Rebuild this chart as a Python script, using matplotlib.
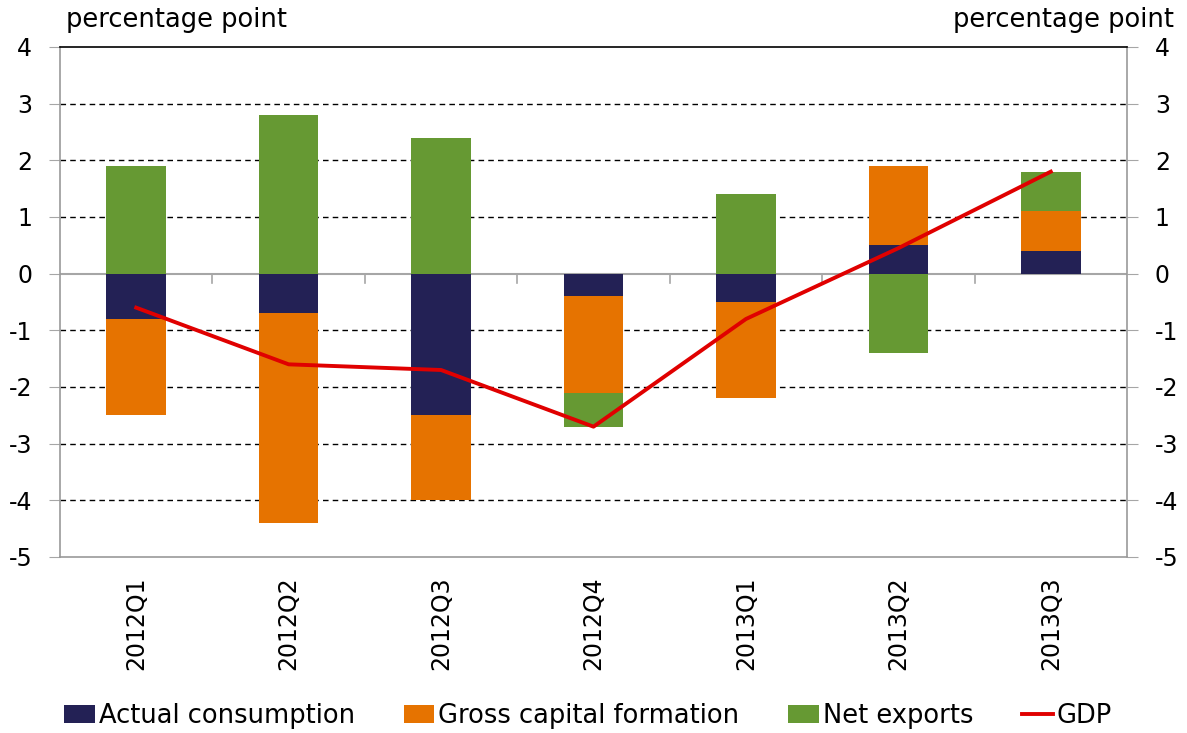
import numpy as np
import matplotlib
matplotlib.use("Agg")
import matplotlib.pyplot as plt
from matplotlib.patches import Patch
from matplotlib.lines import Line2D

categories = ["2012Q1", "2012Q2", "2012Q3", "2012Q4", "2013Q1", "2013Q2", "2013Q3"]
actual_consumption = [-0.8, -0.7, -2.5, -0.4, -0.5, 0.5, 0.4]
gross_capital_formation = [-1.7, -3.7, -1.5, -1.7, -1.7, 1.4, 0.7]
net_exports = [1.9, 2.8, 2.4, -0.6, 1.4, -1.4, 0.7]
gdp = [-0.6, -1.6, -1.7, -2.7, -0.8, 0.45, 1.8]
yticks = [-5, -4, -3, -2, -1, 0, 1, 2, 3, 4]

series = [
    ("Actual consumption", actual_consumption, "#232155"),
    ("Gross capital formation", gross_capital_formation, "#E67300"),
    ("Net exports", net_exports, "#669933"),
]

plt.rcParams['font.family'] = ['DejaVu Sans']
fig = plt.figure(figsize=(11.87, 7.33), dpi=100)
ax = fig.add_axes([60/1187, 1-557/733, (1127-60)/1187, (557-47)/733])

x = np.arange(len(categories))
pos_base = np.zeros(len(categories))
neg_base = np.zeros(len(categories))
w = 0.39
for name, vals, col in series:
    v = np.array(vals, dtype=float)
    bottoms = np.where(v >= 0, pos_base, neg_base)
    ax.bar(x, v, w, bottom=bottoms, color=col, zorder=3, linewidth=0)
    pos_base += np.where(v >= 0, v, 0)
    neg_base += np.where(v < 0, v, 0)

ax.plot(x, gdp, color="#E00000", lw=2.8, zorder=4)

ax.set_xlim(-0.5, len(categories) - 0.5)
ax.set_ylim(-5, 4)
ax.set_yticks(yticks)
ax.set_yticklabels([str(t) for t in yticks], fontsize=17)
ax.tick_params(axis='y', which='both', direction='out', length=8, color='#A6A6A6', pad=12,
               labelright=True, right=True)
for t in yticks:
    if t not in (-5, 0, 4):
        ax.axhline(t, color='black', lw=1, ls=(0, (4, 3)), zorder=1)
ax.axhline(0, color='#A6A6A6', lw=1.5, zorder=2)

# category boundary ticks on zero line
for b in np.arange(0.5, len(categories) - 0.5, 1.0):
    ax.plot([b, b], [0, -0.17], color='#A6A6A6', lw=1.2, zorder=2)

ax.set_xticks([])
for xi, c in zip(x, categories):
    xf = fig.transFigure.inverted().transform(ax.transData.transform((xi, 0)))[0]
    fig.text(xf, 1-670/733, c, rotation=90, ha='center', va='bottom', fontsize=17)

for s in ['left', 'right', 'bottom']:
    ax.spines[s].set_color('#999999')
    ax.spines[s].set_linewidth(1.2)
ax.spines['top'].set_color('black')
ax.spines['top'].set_linewidth(1.2)

fig.text(66/1187, 1-20/733, "percentage point", fontsize=18.5, ha='left', va='center')
fig.text(1174/1187, 1-20/733, "percentage point", fontsize=18.5, ha='right', va='center')

handles = [Patch(facecolor=c, label=n) for n, _, c in series] + \
          [Line2D([0], [0], color="#E00000", lw=2.8, label="GDP")]
fig.legend(handles=handles, loc='center', bbox_to_anchor=(588/1187, 1-716/733), ncol=4,
           frameon=False, fontsize=18.5, handlelength=1.2, handleheight=0.7,
           handletextpad=0.15, columnspacing=1.9)

fig.savefig("out.png", dpi=100)
